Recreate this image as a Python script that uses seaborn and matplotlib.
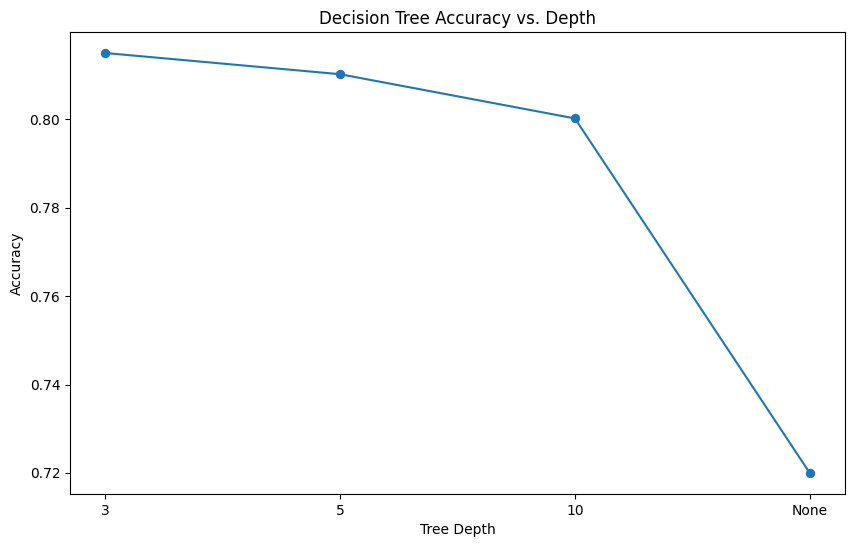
import pandas as pd
import matplotlib.pyplot as plt
import seaborn as sns

depths = ["3", "5", "10", "None"]
accuracies = [0.8150, 0.8102, 0.8002, 0.7200]

df = pd.DataFrame({"Tree Depth": depths, "Accuracy": accuracies})

fig = plt.figure(figsize=(8.55, 5.47), dpi=100)
ax = fig.add_axes([0.0819, 0.0969, 0.9064, 0.8446])
sns.lineplot(data=df, x="Tree Depth", y="Accuracy", marker="o",
             markersize=6, markeredgecolor="#1f77b4", color="#1f77b4",
             sort=False, ax=ax)
ax.set_title("Decision Tree Accuracy vs. Depth")
ax.set_xlabel("Tree Depth")
ax.set_ylabel("Accuracy")
fig.savefig("out.png", dpi=100)
